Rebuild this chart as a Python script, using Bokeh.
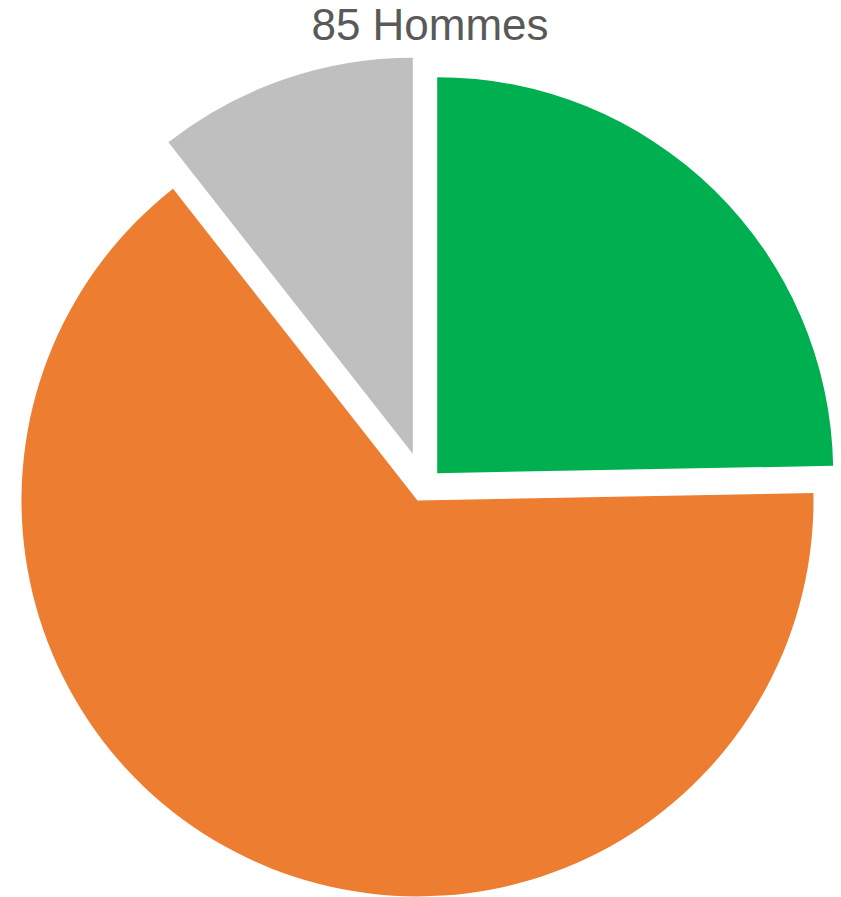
import math
from bokeh.plotting import figure
from bokeh.models import ColumnDataSource, Range1d, Label
from bokeh.embed import file_html
from bokeh.resources import INLINE

# Data
categories = ["Vert", "Orange", "Gris"]
counts = [21, 55, 9]
colors = ["#00B050", "#ED7D31", "#BFBFBF"]
title_text = "85 Hommes"

# Style / layout (screen pixels)
W, H = 841, 897
explode = [18.7, 15.4, 34.6]
center_x, center_y = 423.6, H - 486.0
radius = 396

total = sum(counts)
xs, ys, starts, ends = [], [], [], []
cum = 0.0
for c, d in zip(counts, explode):
    a0 = math.pi / 2 - 2 * math.pi * cum / total
    cum += c
    a1 = math.pi / 2 - 2 * math.pi * cum / total
    mid = (a0 + a1) / 2
    xs.append(center_x + d * math.cos(mid))
    ys.append(center_y + d * math.sin(mid))
    starts.append(a0)
    ends.append(a1)

src = ColumnDataSource(dict(x=xs, y=ys, start=starts, end=ends, color=colors,
                            cat=categories, n=counts))

p = figure(width=W, height=H, output_backend="svg", toolbar_location=None,
           x_range=Range1d(0, W), y_range=Range1d(0, H),
           min_border=0, outline_line_color=None)
p.axis.visible = False
p.grid.visible = False
p.background_fill_color = "white"
p.border_fill_color = "white"

p.wedge(x="x", y="y", radius=radius, start_angle="start", end_angle="end",
        direction="clock", fill_color="color", line_color=None, source=src)

p.add_layout(Label(x=429.5, y=H - 24, text=title_text, text_align="center",
                   text_baseline="alphabetic", text_font="Liberation Sans",
                   text_font_size="44px", text_color="#595959"))

open("out.html", "w").write(file_html(p, INLINE))
